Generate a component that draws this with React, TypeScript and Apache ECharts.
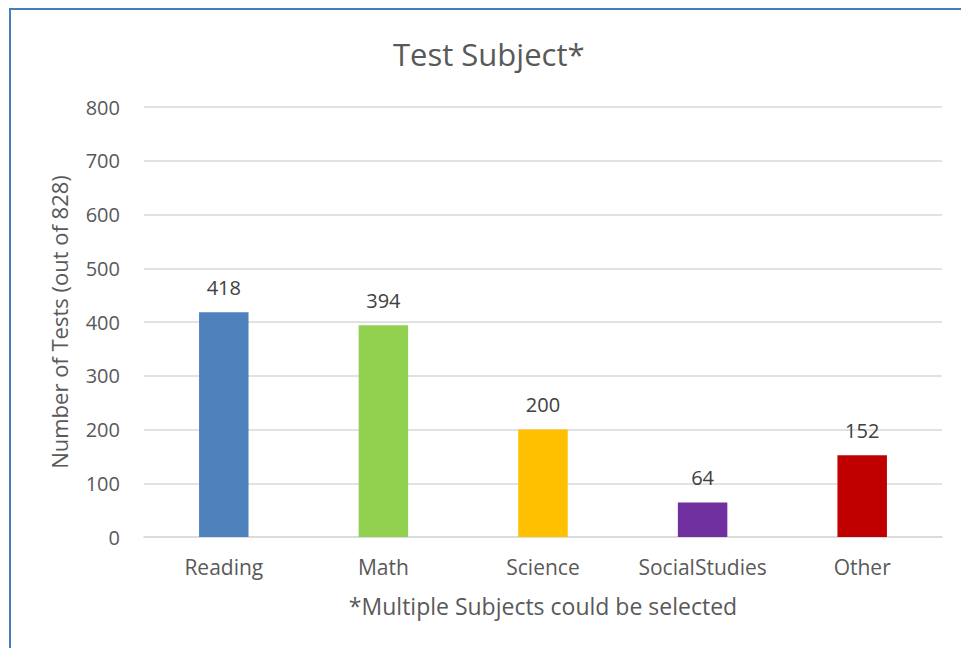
import React, { useEffect, useRef } from "react";
import * as echarts from "echarts";

const categories = ["Reading", "Math", "Science", "SocialStudies", "Other"];
const values = [418, 394, 200, 64, 152];
const barColors = ["#4f81bd", "#92d050", "#ffc000", "#7030a0", "#c00000"];
const yTicks = [0, 100, 200, 300, 400, 500, 600, 700, 800];

export default function App() {
  const ref = useRef<HTMLDivElement>(null);
  useEffect(() => {
    document.body.style.margin = "0";
    const chart = echarts.init(ref.current!, null, { renderer: "svg" });
    const font = "'Open Sans', sans-serif";
    chart.setOption({
      animation: false,
      backgroundColor: "#ffffff",
      textStyle: { fontFamily: font },
      title: {
        text: "Test Subject*",
        left: 388,
        top: 33,
        textStyle: { fontSize: 31, fontWeight: "normal", color: "#595959", fontFamily: font },
      },
      graphic: [
        {
          type: "rect",
          shape: { x: 10, y: 9, width: 1000, height: 1000 },
          style: { fill: "none", stroke: "#4a7ebb", lineWidth: 2 },
          silent: true,
        },
      ],
      grid: { left: 144, right: 19, top: 107, bottom: 111 },
      xAxis: {
        type: "category",
        data: categories,
        name: "*Multiple Subjects could be selected",
        nameLocation: "middle",
        nameGap: 57,
        nameTextStyle: { fontSize: 23, color: "#595959", fontFamily: font },
        axisTick: { show: false },
        axisLine: { lineStyle: { color: "#d9d9d9", width: 1.5 } },
        axisLabel: { fontSize: 21, color: "#595959", margin: 19, fontFamily: font, interval: 0 },
      },
      yAxis: {
        type: "value",
        min: yTicks[0],
        max: yTicks[yTicks.length - 1],
        interval: 100,
        name: "Number of Tests (out of 828)",
        nameLocation: "middle",
        nameGap: 74,
        nameTextStyle: { fontSize: 22, color: "#595959", fontFamily: font },
        axisLine: { show: false },
        axisTick: { show: false },
        splitLine: { lineStyle: { color: "#d9d9d9", width: 1.5 } },
        axisLabel: { fontSize: 20, color: "#595959", margin: 24, fontFamily: font },
      },
      series: [
        {
          type: "bar",
          barWidth: "31%",
          data: values.map((v, i) => ({ value: v, itemStyle: { color: barColors[i] } })),
          label: {
            show: true,
            position: "top",
            distance: 15,
            fontSize: 20,
            color: "#404040",
            fontFamily: font,
          },
        },
      ],
    });
    return () => chart.dispose();
  }, []);
  return <div ref={ref} style={{ width: 961, height: 648 }} />;
}
